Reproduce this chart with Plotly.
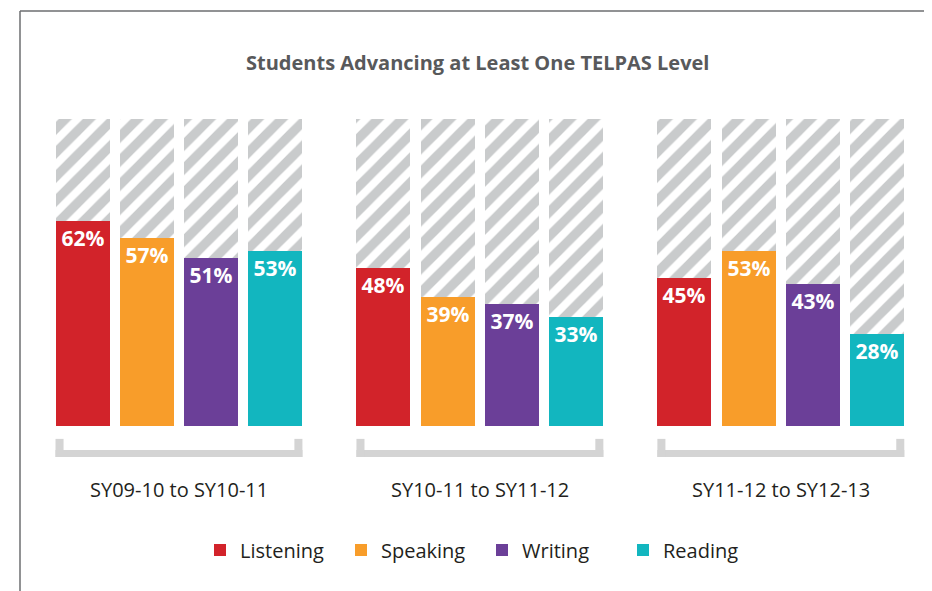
import plotly.graph_objects as go

# ---- data ----
periods = ["SY09-10 to SY10-11", "SY10-11 to SY11-12", "SY11-12 to SY12-13"]
skills = ["Listening", "Speaking", "Writing", "Reading"]
listening = [62, 48, 45]
speaking = [57, 39, 53]
writing = [51, 37, 43]
reading = [53, 33, 28]
track = [93, 93, 93]  # height of the hatched background track (as drawn)

series_values = [listening, speaking, writing, reading]
colors = ["#d2232a", "#f89d2a", "#6b3f98", "#12b6bf"]

W, H = 924, 583          # page body has an 8px margin
GROUP_GAP = 4.68
BAR_W = 0.84


def xpos(g, s):
    return g * GROUP_GAP + (s - 1.5)


fig = go.Figure()

# hatched background tracks
bx, by = [], []
for g in range(len(periods)):
    for s in range(len(skills)):
        bx.append(xpos(g, s))
        by.append(track[g])
fig.add_trace(go.Bar(
    x=bx, y=by, width=BAR_W, showlegend=False, hoverinfo="skip",
    marker=dict(color="white", line=dict(width=0),
                pattern=dict(shape="/", fgcolor="#c9cbcc", bgcolor="white",
                             fgopacity=1, size=17, solidity=0.55)),
))

for s, (name, vals, col) in enumerate(zip(skills, series_values, colors)):
    fig.add_trace(go.Bar(
        x=[xpos(g, s) for g in range(len(periods))], y=vals, width=BAR_W,
        name=name, marker=dict(color=col, line=dict(width=0)),
        text=[f"{v}%" for v in vals], textposition="inside",
        insidetextanchor="end", textangle=0,
        textfont=dict(family="Open Sans", size=21, color="white", weight="bold"),
        cliponaxis=False,
    ))

# brackets + period labels
shapes = []
BR = "#d4d4d4"
for g, p in enumerate(periods):
    left = xpos(g, 0) - BAR_W / 2
    right = xpos(g, 3) + BAR_W / 2
    shapes.append(dict(type="rect", xref="x", yref="y", x0=left, x1=right,
                       y0=-9.4, y1=-7.3, fillcolor=BR, line=dict(width=0)))
    shapes.append(dict(type="rect", xref="x", yref="y", x0=left, x1=left + 0.125,
                       y0=-9.4, y1=-3.9, fillcolor=BR, line=dict(width=0)))
    shapes.append(dict(type="rect", xref="x", yref="y", x0=right - 0.125, x1=right,
                       y0=-9.4, y1=-3.9, fillcolor=BR, line=dict(width=0)))
    fig.add_annotation(x=g * GROUP_GAP, y=-19.3, xref="x", yref="y", text=p,
                       showarrow=False, yanchor="middle",
                       font=dict(family="Open Sans", size=20, color="#231f20"))

# frame lines
fy = 1 - 3 / H
fx = 12 / W
shapes.append(dict(type="line", xref="paper", yref="paper", x0=fx, x1=1,
                   y0=fy, y1=fy, line=dict(color="#6d6e71", width=1.5)))
shapes.append(dict(type="line", xref="paper", yref="paper", x0=fx, x1=fx,
                   y0=0, y1=fy, line=dict(color="#6d6e71", width=1.5)))

fig.add_annotation(x=469 / W, y=1 - 54 / H, xref="paper", yref="paper",
                   text="<b>Students Advancing at Least One TELPAS Level</b>",
                   showarrow=False, yanchor="middle",
                   font=dict(family="Open Sans", size=20, color="#58595b"))

fig.update_layout(
    width=W, height=H,
    margin=dict(l=0, r=0, t=0, b=0),
    paper_bgcolor="white", plot_bgcolor="white",
    barmode="overlay", bargap=0,
    shapes=shapes,
    xaxis=dict(range=[-2.659, 11.711], visible=False, fixedrange=True),
    yaxis=dict(range=[-50, 126.67], visible=False, fixedrange=True),
    legend=dict(orientation="h", x=474 / W, xanchor="center",
                y=1 - 542 / H, yanchor="middle",
                entrywidth=96, entrywidthmode="pixels",
                font=dict(family="Open Sans", size=20, color="#231f20"),
                bgcolor="rgba(0,0,0,0)"),
    uniformtext=dict(minsize=21, mode="show"),
    showlegend=True,
)

fig.write_html("out.html")
